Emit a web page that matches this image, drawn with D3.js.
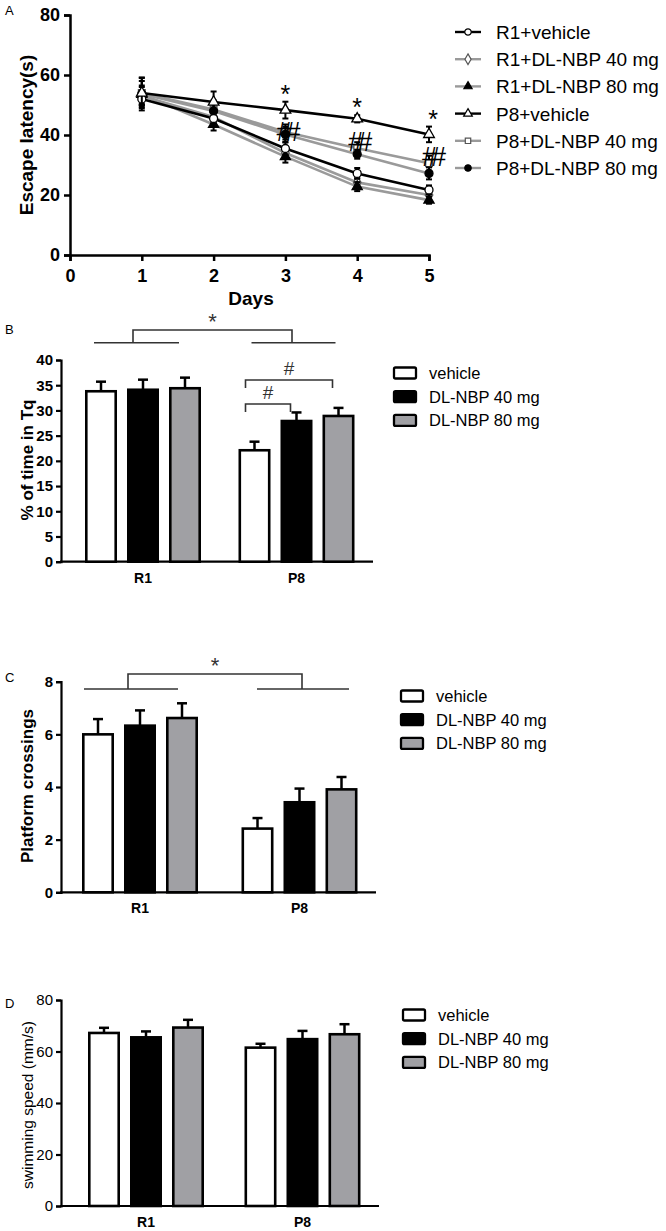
<!DOCTYPE html>
<html>
<head>
<meta charset="utf-8">
<script src="https://cdn.jsdelivr.net/npm/d3@7"></script>
<style>
  body { margin: 0; background: #fff; }
  svg { font-family: "Liberation Sans", Arial, sans-serif; }
</style>
</head>
<body>
<svg id="fig" width="666" height="1231"></svg>
<script>
// ---- data ----
var days = [1, 2, 3, 4, 5];
var lineSeries = ["R1+vehicle", "R1+DL-NBP 40 mg", "R1+DL-NBP 80 mg", "P8+vehicle", "P8+DL-NBP 40 mg", "P8+DL-NBP 80 mg"];
var latencyMean = [
  [52.0, 45.5, 35.5, 27.2, 21.7],
  [53.0, 46.0, 34.0, 24.2, 20.0],
  [53.5, 43.5, 32.8, 22.8, 18.3],
  [54.0, 51.0, 48.3, 45.4, 40.2],
  [54.0, 48.5, 41.0, 35.6, 30.6],
  [53.7, 48.0, 40.2, 33.6, 27.2]
];
var latencyErr = [
  [2.5, 2.0, 2.0, 1.8, 1.5],
  [3.0, 2.0, 2.0, 1.5, 1.5],
  [3.0, 2.0, 2.0, 1.5, 1.2],
  [4.0, 3.5, 2.8, 1.2, 2.6],
  [5.0, 3.0, 2.5, 2.0, 2.5],
  [5.5, 3.0, 2.5, 1.5, 2.0]
];
var groups = ["R1", "P8"];
var treatments = ["vehicle", "DL-NBP 40 mg", "DL-NBP 80 mg"];
var timeTq = [[33.8, 34.1, 34.4], [22.1, 27.9, 28.9]];
var timeTqErr = [[1.9, 2.0, 2.1], [1.7, 1.7, 1.6]];
var crossings = [[6.0, 6.33, 6.62], [2.42, 3.42, 3.91]];
var crossingsErr = [[0.58, 0.58, 0.56], [0.4, 0.52, 0.47]];
var speed = [[67.2, 65.5, 69.3], [61.5, 64.8, 66.7]];
var speedErr = [[2.0, 2.3, 3.0], [1.5, 3.2, 3.9]];

var svg = d3.select("#fig");
var grey = "#9a9a9a";
var barFill = ["#ffffff", "#000000", "#a0a0a4"];

function styleAxis(g, w) {
  g.selectAll(".domain").attr("stroke", "#000").attr("stroke-width", w);
  g.selectAll(".tick line").attr("stroke", "#000").attr("stroke-width", w);
}

// ================= Panel A =================
(function () {
  var x = d3.scaleLinear().domain([0, 5]).range([70, 429]);
  var y = d3.scaleLinear().domain([0, 80]).range([255, 15]);
  var g = svg.append("g");

  var ya = g.append("g").attr("transform", "translate(70,0)")
    .call(d3.axisLeft(y).tickValues([0, 20, 40, 60, 80]).tickSizeOuter(0).tickSize(6).tickPadding(4));
  ya.selectAll("text").attr("font-size", 18).attr("font-weight", "bold").attr("fill", "#000");
  styleAxis(ya, 2.5);
  var xa = g.append("g").attr("transform", "translate(0,255)")
    .call(d3.axisBottom(x).tickValues([0, 1, 2, 3, 4, 5]).tickFormat(d3.format("d")).tickSizeOuter(0).tickSize(6).tickPadding(8));
  xa.selectAll("text").attr("font-size", 18).attr("font-weight", "bold").attr("fill", "#000");
  styleAxis(xa, 2.5);

  g.append("text").attr("x", 5).attr("y", 15).attr("font-size", 13).text("A");
  g.append("text").attr("transform", "translate(33,135) rotate(-90)").attr("text-anchor", "middle")
    .attr("font-size", 19).attr("font-weight", "bold").text("Escape latency(s)");
  g.append("text").attr("x", 251).attr("y", 305).attr("text-anchor", "middle")
    .attr("font-size", 19).attr("font-weight", "bold").text("Days");

  var lineColor = ["#000", grey, grey, "#000", grey, grey];
  var markers = [
    { type: d3.symbolCircle, fill: "#fff", stroke: "#000", size: 50 },
    { type: d3.symbolDiamond, fill: "#fff", stroke: "#555", size: 50 },
    { type: d3.symbolTriangle, fill: "#000", stroke: "#000", size: 45 },
    { type: d3.symbolTriangle, fill: "#fff", stroke: "#000", size: 50 },
    { type: d3.symbolSquare, fill: "#fff", stroke: "#555", size: 45 },
    { type: d3.symbolCircle, fill: "#000", stroke: "#000", size: 50 }
  ];
  var line = d3.line().x(function (d) { return x(d.day); }).y(function (d) { return y(d.v); });
  var order = [1, 2, 4, 5, 0, 3];
  order.forEach(function (s) {
    var pts = days.map(function (d, i) { return { day: d, v: latencyMean[s][i], e: latencyErr[s][i] }; });
    g.append("path").datum(pts).attr("d", line).attr("fill", "none")
      .attr("stroke", lineColor[s]).attr("stroke-width", 2.6);
  });
  order.forEach(function (s) {
    var pts = days.map(function (d, i) { return { day: d, v: latencyMean[s][i], e: latencyErr[s][i] }; });
    var eb = g.append("g").selectAll("g").data(pts).enter().append("g");
    eb.append("line").attr("x1", function (d) { return x(d.day); }).attr("x2", function (d) { return x(d.day); })
      .attr("y1", function (d) { return y(d.v - d.e); }).attr("y2", function (d) { return y(d.v + d.e); })
      .attr("stroke", "#000").attr("stroke-width", 2);
    ["-", "+"].forEach(function (sg) {
      eb.append("line").attr("x1", function (d) { return x(d.day) - 3; }).attr("x2", function (d) { return x(d.day) + 3; })
        .attr("y1", function (d) { return y(sg === "+" ? d.v + d.e : d.v - d.e); })
        .attr("y2", function (d) { return y(sg === "+" ? d.v + d.e : d.v - d.e); })
        .attr("stroke", "#000").attr("stroke-width", 2);
    });
    var m = markers[s];
    g.append("g").selectAll("path").data(pts).enter().append("path")
      .attr("d", d3.symbol().type(m.type).size(m.size))
      .attr("transform", function (d) { return "translate(" + x(d.day) + "," + y(d.v) + ")"; })
      .attr("fill", m.fill).attr("stroke", m.stroke).attr("stroke-width", 1.3);
  });

  // significance marks
  var hashShift = [9, 3, 3];
  [3, 4, 5].forEach(function (d, i) {
    var top = latencyMean[3][d - 1] + latencyErr[3][d - 1];
    g.append("text").attr("x", x(d) + (d === 5 ? 4 : 0)).attr("y", y(top) + 1).attr("text-anchor", "middle")
      .attr("font-size", 25).text("*");
    g.append("text").attr("x", x(d) + (d === 5 ? 2 : 0)).attr("y", y(latencyMean[4][d - 1]) + hashShift[i])
      .attr("text-anchor", "middle").attr("font-size", 27).attr("letter-spacing", -6).text("##");
  });

  // legend
  var lg = svg.append("g");
  lineSeries.forEach(function (name, i) {
    var yy = 32 + i * 27.2;
    lg.append("line").attr("x1", 455).attr("x2", 481).attr("y1", yy).attr("y2", yy)
      .attr("stroke", lineColor[i]).attr("stroke-width", 2.4);
    var m = markers[i];
    lg.append("path").attr("d", d3.symbol().type(m.type).size(m.size * 0.65))
      .attr("transform", "translate(468," + yy + ")")
      .attr("fill", m.fill).attr("stroke", m.stroke).attr("stroke-width", 1.2);
    lg.append("text").attr("x", 496).attr("y", yy + 7).attr("font-size", 19).text(name);
  });
})();

// ================= bar panels =================
function barPanel(opt) {
  var g = svg.append("g");
  var y = d3.scaleLinear().domain([0, opt.max]).range([opt.y0, opt.y1]);
  var x0 = d3.scalePoint().domain(groups).range(opt.centers);
  var x1 = d3.scaleBand().domain(treatments).range([-63, 63]).paddingInner(0.3).paddingOuter(0.15);
  var bw = x1.bandwidth();

  var ya = g.append("g").attr("transform", "translate(61,0)")
    .call(d3.axisLeft(y).tickValues(opt.ticks).tickSizeOuter(0).tickSize(5).tickPadding(3));
  ya.selectAll("text").attr("font-size", 15).attr("font-weight", opt.tickBold ? "bold" : "normal").attr("fill", "#000");
  styleAxis(ya, 2.2);
  g.append("line").attr("x1", 60).attr("x2", opt.xEnd).attr("y1", opt.y0).attr("y2", opt.y0)
    .attr("stroke", "#000").attr("stroke-width", 2.2);
  groups.forEach(function (gr) {
    g.append("text").attr("x", x0(gr)).attr("y", opt.y0 + 21).attr("text-anchor", "middle")
      .attr("font-size", 14).attr("font-weight", "bold").text(gr);
  });

  g.append("text").attr("x", 5).attr("y", opt.letterY).attr("font-size", 13).text(opt.letter);
  g.append("text").attr("transform", "translate(33," + opt.labelY + ") rotate(-90)").attr("text-anchor", "middle")
    .attr("font-size", opt.labelSize).attr("font-weight", opt.labelBold ? "bold" : "normal").text(opt.label);

  groups.forEach(function (gr, gi) {
    treatments.forEach(function (t, ti) {
      var v = opt.values[gi][ti], e = opt.errs[gi][ti];
      var bx = x0(gr) + x1(t);
      g.append("line").attr("x1", bx + bw / 2).attr("x2", bx + bw / 2).attr("y1", y(v)).attr("y2", y(v + e))
        .attr("stroke", "#000").attr("stroke-width", 2.5);
      g.append("line").attr("x1", bx + bw / 2 - 5).attr("x2", bx + bw / 2 + 5).attr("y1", y(v + e)).attr("y2", y(v + e))
        .attr("stroke", "#000").attr("stroke-width", 2.5);
      g.append("rect").attr("x", bx).attr("y", y(v)).attr("width", bw).attr("height", opt.y0 - y(v))
        .attr("fill", barFill[ti]).attr("stroke", "#000").attr("stroke-width", 2.6);
    });
  });

  // legend
  treatments.forEach(function (t, i) {
    var yy = opt.legY + i * 23.7;
    g.append("rect").attr("x", opt.legX).attr("y", yy - 5.5).attr("width", 22).attr("height", 11).attr("rx", 1.5)
      .attr("fill", barFill[i]).attr("stroke", "#000").attr("stroke-width", 2.3);
    g.append("text").attr("x", opt.legX + 35).attr("y", yy + 6).attr("font-size", 16.5).text(t);
  });

  if (opt.star) {
    var s = opt.star, c1 = x0("R1"), c2 = x0("P8");
    var br = g.append("g").attr("stroke", "#333").attr("stroke-width", 1.6).attr("fill", "none");
    br.append("line").attr("x1", c1 + s.r1[0]).attr("x2", c1 + s.r1[1]).attr("y1", s.low).attr("y2", s.low);
    br.append("line").attr("x1", c2 + s.p8[0]).attr("x2", c2 + s.p8[1]).attr("y1", s.low).attr("y2", s.low);
    br.append("path").attr("d", "M" + (c1 + s.r1[2]) + "," + s.low + "V" + s.high + "H" + (c2 + s.p8[2]) + "V" + s.low);
    g.append("text").attr("x", (c1 + s.r1[2] + c2 + s.p8[2]) / 2).attr("y", s.high - 1).attr("text-anchor", "middle")
      .attr("font-size", 22).attr("fill", "#333").text("*");
  }
  if (opt.hashes) {
    var c = x0("P8");
    opt.hashes.forEach(function (h) {
      var xa = c + x1(treatments[0]) + bw / 2 - 9, xb = c + x1(treatments[h.to]) + bw / 2 - 6;
      g.append("path").attr("d", "M" + xa + "," + (h.y + 8) + "V" + h.y + "H" + xb + "V" + (h.y + 8))
        .attr("fill", "none").attr("stroke", "#333").attr("stroke-width", 1.6);
      g.append("text").attr("x", (xa + xb) / 2).attr("y", h.y - 5).attr("text-anchor", "middle")
        .attr("font-size", 19).attr("fill", "#333").text("#");
    });
  }
}

barPanel({
  values: timeTq, errs: timeTqErr, max: 40, ticks: d3.range(0, 41, 5),
  y0: 561.7, y1: 360, centers: [143, 296.5], xEnd: 373, tickBold: true,
  letter: "B", letterY: 334, label: "% of time in Tq", labelY: 460, labelSize: 17, labelBold: true,
  legX: 394, legY: 373,
  star: { r1: [-49, 36, -10], p8: [-45, 39, -4.5], low: 342.7, high: 330 },
  hashes: [{ to: 2, y: 380 }, { to: 1, y: 404 }]
});

barPanel({
  values: crossings, errs: crossingsErr, max: 8, ticks: [0, 2, 4, 6, 8],
  y0: 892.3, y1: 681.7, centers: [140, 299.5], xEnd: 376, tickBold: true,
  letter: "C", letterY: 682, label: "Platform crossings", labelY: 786, labelSize: 17, labelBold: true,
  legX: 401, legY: 696,
  star: { r1: [-56, 38, -12], p8: [-42.5, 49.5, 2.5], low: 689, high: 674 }
});

barPanel({
  values: speed, errs: speedErr, max: 80, ticks: [0, 20, 40, 60, 80],
  y0: 1206, y1: 1000, centers: [146, 302.5], xEnd: 379, tickBold: false,
  letter: "D", letterY: 1008, label: "swimming speed (mm/s)", labelY: 1105, labelSize: 15.5, labelBold: false,
  legX: 403, legY: 1015
});
</script>
</body>
</html>
